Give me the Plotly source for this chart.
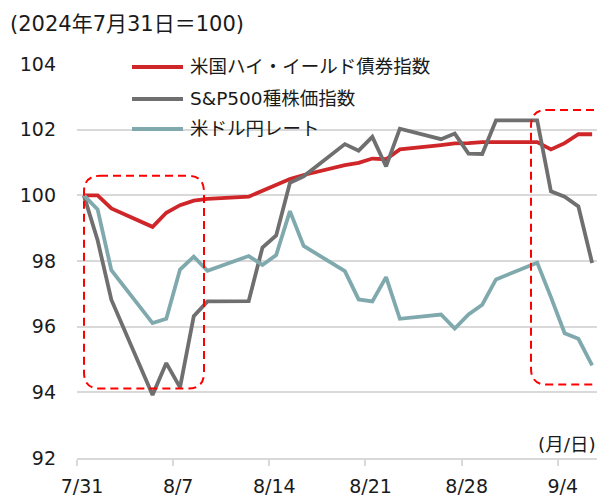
import plotly.graph_objects as go

# ---- data ----
dates = ["2024-07-31", "2024-08-01", "2024-08-02", "2024-08-05", "2024-08-06", "2024-08-07",
         "2024-08-08", "2024-08-09", "2024-08-12", "2024-08-13", "2024-08-14", "2024-08-15",
         "2024-08-16", "2024-08-19", "2024-08-20", "2024-08-21", "2024-08-22", "2024-08-23",
         "2024-08-26", "2024-08-27", "2024-08-28", "2024-08-29", "2024-08-30", "2024-09-02",
         "2024-09-03", "2024-09-04", "2024-09-05", "2024-09-06"]

us_high_yield = [100.00, 100.00, 99.60, 99.04, 99.47, 99.70, 99.84, 99.89, 99.96, 100.13,
                 100.31, 100.50, 100.62, 100.92, 100.99, 101.12, 101.10, 101.40, 101.53, 101.58,
                 101.59, 101.62, 101.62, 101.62, 101.40, 101.59, 101.86, 101.86]

sp500 = [100.00, 98.63, 96.82, 93.92, 94.89, 94.15, 96.32, 96.77, 96.78, 98.41,
         98.78, 100.38, 100.58, 101.56, 101.36, 101.78, 100.88, 102.03, 101.71, 101.88,
         101.27, 101.26, 102.28, 102.28, 100.12, 99.96, 99.66, 97.94]

usdjpy = [100.00, 99.57, 97.72, 96.11, 96.24, 97.74, 98.13, 97.70, 98.15, 97.88,
          98.18, 99.52, 98.46, 97.69, 96.83, 96.77, 97.51, 96.24, 96.37, 95.94,
          96.37, 96.67, 97.44, 97.95, 96.90, 95.80, 95.63, 94.82]

series_names = ["米国ハイ・イールド債券指数", "S&P500種株価指数", "米ドル円レート"]
series_colors = ["#CF2629", "#6F6F6F", "#7FA9AD"]

tick_dates = ["2024-07-31", "2024-08-07", "2024-08-14", "2024-08-21", "2024-08-28", "2024-09-04"]
tick_labels = ["7/31", "8/7", "8/14", "8/21", "8/28", "9/4"]
y_ticks = [92, 94, 96, 98, 100, 102, 104]

title_text = "(2024年7月31日＝100)"
x_unit_text = "(月/日)"

# ---- layout geometry (page pixels; the page body adds an 8px offset) ----
W, H = 605, 495
OFF = 8
PLOT_L, PLOT_T, PLOT_R, PLOT_B = 77, 64, 599, 458.5   # plot area in page pixels
ML = PLOT_L - OFF
MT = PLOT_T - OFF
PW = PLOT_R - PLOT_L
PH = PLOT_B - PLOT_T
MR = W - ML - PW
MB = H - MT - PH

def X(px):
    return (px - PLOT_L) / PW

def Y(py):
    return (PLOT_B - py) / PH

def rrect(x0, y0, x1, y1, r):
    return (f"M {X(x0 + r)},{Y(y0)} L {X(x1 - r)},{Y(y0)} "
            f"Q {X(x1)},{Y(y0)} {X(x1)},{Y(y0 + r)} L {X(x1)},{Y(y1 - r)} "
            f"Q {X(x1)},{Y(y1)} {X(x1 - r)},{Y(y1)} L {X(x0 + r)},{Y(y1)} "
            f"Q {X(x0)},{Y(y1)} {X(x0)},{Y(y1 - r)} L {X(x0)},{Y(y0 + r)} "
            f"Q {X(x0)},{Y(y0)} {X(x0 + r)},{Y(y0)} Z")

FONT = "DejaVu Sans, Noto Sans CJK JP, sans-serif"
TXT = "#1a1a1a"

fig = go.Figure()
for name, vals, col in zip(series_names, [us_high_yield, sp500, usdjpy], series_colors):
    fig.add_trace(go.Scatter(
        x=dates, y=vals, name=name, mode="lines",
        line=dict(color=col, width=3.8),
        xperiod=86400000, xperiodalignment="middle",
        showlegend=False,
    ))

shapes = []
annotations = []
# manual legend
leg_y = [67, 99, 129]
for name, col, ly in zip(series_names, series_colors, leg_y):
    shapes.append(dict(type="line", xref="paper", yref="paper",
                       x0=X(132), x1=X(183), y0=Y(ly), y1=Y(ly),
                       line=dict(color=col, width=4)))
    annotations.append(dict(xref="paper", yref="paper", x=X(188), y=Y(ly),
                            xanchor="left", yanchor="middle", text=name, showarrow=False,
                            font=dict(family=FONT, size=18.5, color=TXT)))

# dashed highlight boxes
for box in [(84, 176, 204, 389, 16), (531, 110, 640, 385, 16)]:
    shapes.append(dict(type="path", xref="paper", yref="paper", path=rrect(*box),
                       line=dict(color="#FF0000", width=2, dash="8px,5px"),
                       fillcolor="rgba(0,0,0,0)", layer="above"))

annotations.append(dict(xref="paper", yref="paper", x=X(598), y=Y(445),
                        xanchor="right", yanchor="middle", text=x_unit_text, showarrow=False,
                        font=dict(family=FONT, size=18.5, color=TXT)))

fig.update_layout(
    width=W, height=H,
    margin=dict(l=ML, r=MR, t=MT, b=MB),
    paper_bgcolor="white", plot_bgcolor="white",
    font=dict(family=FONT, size=19, color=TXT),
    title=dict(text=title_text, x=(10 - OFF) / W, xanchor="left", xref="container",
               y=1 - (24 - OFF) / H, yanchor="middle", yref="container",
               font=dict(family=FONT, size=21, color=TXT)),
    shapes=shapes, annotations=annotations,
    showlegend=False,
)
fig.update_xaxes(
    type="date", range=["2024-07-31", "2024-09-07"],
    tickvals=tick_dates, ticktext=tick_labels,
    showgrid=False, showline=True, linecolor="#D9D9D9", linewidth=1.5,
    ticks="outside", ticklen=6, tickcolor="#D9D9D9", tickwidth=1.5,
    tickfont=dict(family=FONT, size=19, color=TXT),
    ticklabelshift=5, ticklabelstandoff=4, automargin=False,
)
fig.update_yaxes(
    range=[92, 104], tickvals=y_ticks,
    showgrid=True, gridcolor="#D9D9D9", gridwidth=1.5,
    zeroline=False, showline=False, ticks="",
    tickfont=dict(family=FONT, size=19, color=TXT),
    ticklabelstandoff=20, automargin=False,
)

fig.write_html("out.html")
